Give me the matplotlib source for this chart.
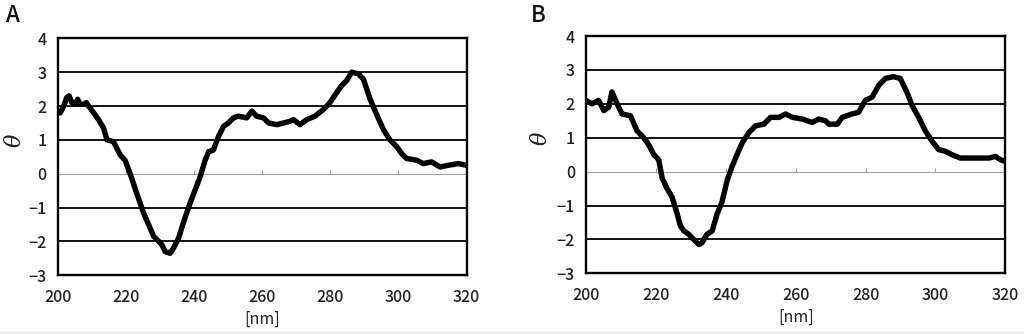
import matplotlib
matplotlib.use("Agg")
import matplotlib.pyplot as plt
from matplotlib.patches import Rectangle

# Panel A: wavelength (nm) and ellipticity theta
wl_a = [200, 200.8, 201.8, 202.7, 203.4, 204.2, 205.2, 205.9, 206.6, 207.6, 208.4, 209.1,
        210.6, 212, 213.5, 214.5, 216.4, 218.4, 219.8, 221.3, 223.3, 225.2, 226.7, 228.2,
        229.7, 230.6, 231.6, 233, 234, 235.5, 236.9, 238.4, 239.9, 241.8, 243.3, 244.3,
        245.7, 247.2, 248.7, 250.1, 251.6, 253, 255.5, 257, 258.4, 260.4, 261.9, 264.3,
        266.3, 268.2, 269.2, 271.1, 273.1, 275.5, 278, 279.9, 281.9, 283.3, 284.8, 286.3,
        288.2, 289.7, 291.7, 293.6, 295.6, 297.5, 299.5, 300.9, 302.4, 305.3, 307.3,
        309.7, 312.2, 314.6, 317.6, 320]
theta_a = [1.8, 1.8, 2.0, 2.25, 2.3, 2.1, 2.05, 2.2, 2.05, 2.05, 2.1, 2.0,
           1.8, 1.6, 1.35, 1.0, 0.95, 0.55, 0.4, 0.0, -0.6, -1.15, -1.5, -1.85,
           -2.0, -2.1, -2.3, -2.35, -2.2, -1.9, -1.45, -1.0, -0.6, -0.1, 0.4, 0.65,
           0.7, 1.1, 1.4, 1.5, 1.65, 1.7, 1.65, 1.85, 1.7, 1.65, 1.5, 1.45,
           1.5, 1.55, 1.6, 1.45, 1.6, 1.7, 1.9, 2.1, 2.4, 2.6, 2.75, 3.0,
           2.95, 2.8, 2.2, 1.75, 1.3, 1.0, 0.8, 0.6, 0.45, 0.4, 0.3,
           0.35, 0.2, 0.25, 0.3, 0.25]

# Panel B
wl_b = [200, 201.7, 203.6, 205.1, 206.5, 207.4, 208.9, 210.3, 212.7, 214.6, 216.5, 217.9,
        219.4, 220.8, 221.8, 223.2, 224.6, 226.1, 227, 228, 229.4, 230.8, 232.3, 233.2,
        234.6, 236.1, 237.5, 238.9, 240.4, 241.8, 243.2, 244.7, 246.6, 248.5, 250.9,
        252.8, 255.2, 257.1, 259.1, 261.9, 264.7, 266.6, 268.5, 269.5, 271.9, 273.3,
        276.1, 278, 279.9, 281.9, 283.8, 285.7, 288, 289.9, 291.8, 293.3, 295.2, 297.1,
        299, 300.9, 302.8, 304.7, 307.1, 309.5, 312.4, 315.3, 317.2, 318.6, 320]
theta_b = [2.1, 2.0, 2.1, 1.8, 1.9, 2.35, 2.0, 1.7, 1.65, 1.2, 1.0, 0.8,
           0.5, 0.35, -0.2, -0.5, -0.75, -1.25, -1.6, -1.75, -1.85, -2.0, -2.15, -2.1,
           -1.85, -1.75, -1.25, -0.9, -0.25, 0.15, 0.5, 0.85, 1.15, 1.35, 1.4,
           1.6, 1.6, 1.7, 1.6, 1.55, 1.45, 1.55, 1.5, 1.4, 1.4, 1.6,
           1.7, 1.75, 2.1, 2.2, 2.55, 2.75, 2.8, 2.75, 2.35, 1.95, 1.6, 1.2,
           0.9, 0.65, 0.6, 0.5, 0.4, 0.4, 0.4, 0.4, 0.45, 0.35, 0.3]

x_ticks = [200, 220, 240, 260, 280, 300, 320]
y_ticks = [-3, -2, -1, 0, 1, 2, 3, 4]
grid_vals = [-2, -1, 1, 2, 3]
panel_labels = ["A", "B"]

font = ["Noto Sans CJK JP", "DejaVu Sans"]
plt.rcParams["font.family"] = font
plt.rcParams["font.weight"] = "medium"

fig = plt.figure(figsize=(10.24, 3.34), dpi=100)
fig.patches.append(Rectangle((0, 0), 1, 0.009, transform=fig.transFigure,
                             facecolor="#f2f2f2", edgecolor="none", zorder=0))

rects = [[0.0562, 0.1757, 0.3995, 0.7096], [0.5723, 0.1817, 0.4095, 0.7105]]
data = [(wl_a, theta_a), (wl_b, theta_b)]
label_pos = [(0.006, 0.955), (0.518, 0.955)]
theta_x = [0.014, 0.528]

for i, (rect, (wl, th)) in enumerate(zip(rects, data)):
    ax = fig.add_axes(rect)
    ax.set_xlim(200, 320)
    ax.set_ylim(-3, 4)
    for g in grid_vals:
        ax.axhline(g, color="black", lw=1.3, zorder=1)
    ax.axhline(0, color="#a0a0a0", lw=0.8, zorder=1)
    ax.vlines(x_ticks[1:-1], 0, 0.12, color="#a0a0a0", lw=0.8, zorder=1)
    ax.plot(wl, th, color="black", lw=3.9, solid_joinstyle="round",
            solid_capstyle="round", zorder=3)
    for s in ax.spines.values():
        s.set_linewidth(1.7)
        s.set_color("black")
    ax.set_xticks(x_ticks)
    ax.set_yticks(y_ticks)
    ax.tick_params(length=0, labelsize=11.5, colors="#222222")
    ax.tick_params(axis="x", pad=10)
    ax.tick_params(axis="y", pad=8)
    ax.set_xlabel("[nm]", fontsize=11.5, labelpad=3, color="#222222")
    fig.text(theta_x[i], rect[1] + rect[3] * 0.57, "θ", rotation=90,
             fontsize=16, style="italic", family="DejaVu Serif",
             ha="center", va="center", color="#222222")
    fig.text(label_pos[i][0], label_pos[i][1], panel_labels[i], fontsize=16,
             ha="left", va="center", color="#111111")

fig.savefig("out.png", dpi=100)
